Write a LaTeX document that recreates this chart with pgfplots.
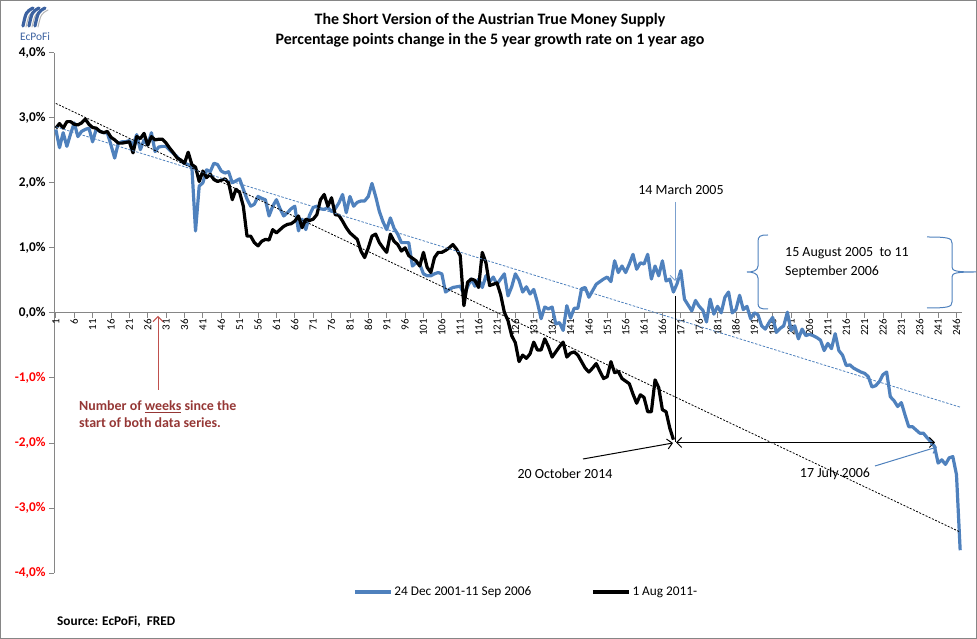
\documentclass[border=0pt]{standalone}
\usepackage{pgfplots}
\usepackage{pgfplotstable}
\pgfplotsset{compat=1.18}
\usepackage{fontspec}
\setmainfont{Carlito}
\usetikzlibrary{arrows.meta}
\definecolor{xlblue}{RGB}{79,129,189}
\definecolor{axgray}{RGB}{134,134,134}
\definecolor{lblred}{RGB}{149,55,53}
\definecolor{arrred}{RGB}{192,80,77}
\definecolor{logoblue}{RGB}{60,98,160}

\pgfplotstableread{
x y
1 2.82
2 2.54
3 2.77
4 2.56
5 2.75
6 2.92
7 2.71
8 2.79
9 2.82
10 2.84
11 2.63
12 2.83
13 2.79
14 2.77
15 2.77
16 2.58
17 2.38
18 2.61
19 2.63
20 2.63
21 2.65
22 2.58
23 2.74
24 2.51
25 2.66
26 2.58
27 2.77
28 2.48
29 2.55
30 2.56
31 2.56
32 2.50
33 2.45
34 2.40
35 2.33
36 2.30
37 2.28
38 2.25
39 1.26
40 1.95
41 2.00
42 2.20
43 2.17
44 2.30
45 2.28
46 2.18
47 2.15
48 2.17
49 2.00
50 2.03
51 2.06
52 1.90
53 1.75
54 1.64
55 1.67
56 1.79
57 1.76
58 1.74
59 1.49
60 1.64
61 1.74
62 1.60
63 1.49
64 1.54
65 1.60
66 1.64
67 1.26
68 1.44
69 1.28
70 1.50
71 1.62
72 1.64
73 1.60
74 1.59
75 1.62
76 1.56
77 1.60
78 1.69
79 1.82
80 1.54
81 1.79
82 1.64
83 1.70
84 1.72
85 1.72
86 1.79
87 1.99
88 1.79
89 1.56
90 1.40
91 1.28
92 1.46
93 1.30
94 1.21
95 1.08
96 1.08
97 1.08
98 0.72
99 0.77
100 0.75
101 0.60
102 0.57
103 0.57
104 0.60
105 0.62
106 0.60
107 0.32
108 0.36
109 0.39
110 0.40
111 0.41
112 0.29
113 0.40
114 0.52
115 0.41
116 0.52
117 0.39
118 0.57
119 0.48
120 0.55
121 0.44
122 0.52
123 0.60
124 0.26
125 0.40
126 0.60
127 0.50
128 0.32
129 0.40
130 0.29
131 0.36
132 0.16
133 -0.09
134 0.09
135 0.06
136 0.09
137 -0.17
138 -0.15
139 -0.27
140 0.11
141 -0.08
142 0.07
143 0.07
144 0.37
145 0.39
146 0.24
147 0.34
148 0.44
149 0.48
150 0.52
151 0.55
152 0.48
153 0.80
154 0.62
155 0.72
156 0.62
157 0.75
158 0.90
159 0.67
160 0.77
161 0.75
162 0.90
163 0.52
164 0.72
165 0.57
166 0.80
167 0.49
168 0.52
169 0.32
170 0.45
171 0.65
172 0.21
173 0.12
174 0.03
175 0.19
176 0.10
177 0.04
178 -0.14
179 0.21
180 -0.02
181 0.10
182 0.00
183 0.24
184 0.32
185 0.00
186 0.05
187 0.27
188 0.05
189 0.10
190 -0.09
191 0.00
192 -0.03
193 -0.20
194 -0.25
195 -0.15
196 -0.07
197 -0.30
198 -0.24
199 -0.20
200 0.01
201 -0.27
202 -0.20
203 -0.40
204 -0.25
205 -0.35
206 -0.33
207 -0.35
208 -0.38
209 -0.42
210 -0.58
211 -0.47
212 -0.55
213 -0.32
214 -0.58
215 -0.65
216 -0.81
217 -0.80
218 -0.85
219 -0.88
220 -0.91
221 -0.93
222 -0.98
223 -1.14
224 -1.12
225 -1.06
226 -0.95
227 -0.91
228 -1.29
229 -1.35
230 -1.44
231 -1.38
232 -1.57
233 -1.75
234 -1.75
235 -1.80
236 -1.85
237 -1.85
238 -1.92
239 -1.98
240 -2.05
241 -2.31
242 -2.26
243 -2.33
244 -2.23
245 -2.21
246 -2.49
247 -3.65
}\bluedata

\pgfplotstableread{
x y
1 2.84
2 2.91
3 2.84
4 2.94
5 2.94
6 2.90
7 2.89
8 2.92
9 2.98
10 2.90
11 2.85
12 2.84
13 2.79
14 2.77
15 2.79
16 2.70
17 2.66
18 2.61
19 2.61
20 2.62
21 2.63
22 2.46
23 2.71
24 2.68
25 2.76
26 2.58
27 2.71
28 2.66
29 2.67
30 2.67
31 2.61
32 2.53
33 2.46
34 2.38
35 2.35
36 2.30
37 2.47
38 2.28
39 2.24
40 2.02
41 2.18
42 2.08
43 2.13
44 2.05
45 2.02
46 2.04
47 2.06
48 2.00
49 1.74
50 1.90
51 1.85
52 1.64
53 1.18
54 1.18
55 1.08
56 1.03
57 1.10
58 1.13
59 1.12
60 1.28
61 1.23
62 1.28
63 1.33
64 1.36
65 1.37
66 1.41
67 1.49
68 1.31
69 1.44
70 1.42
71 1.44
72 1.51
73 1.74
74 1.82
75 1.64
76 1.77
77 1.51
78 1.50
79 1.41
80 1.31
81 1.23
82 1.18
83 1.13
84 0.95
85 0.85
86 1.00
87 1.18
88 1.21
89 1.08
90 1.00
91 0.93
92 1.21
93 1.10
94 1.05
95 0.95
96 1.00
97 0.88
98 0.84
99 0.80
100 0.72
101 0.93
102 0.70
103 0.62
104 0.85
105 0.93
106 0.93
107 0.96
108 1.00
109 1.05
110 0.98
111 0.88
112 0.11
113 0.47
114 0.52
115 0.50
116 0.39
117 0.93
118 0.77
119 0.42
120 0.44
121 0.46
122 0.28
123 0.01
124 -0.12
125 -0.35
126 -0.46
127 -0.75
128 -0.65
129 -0.70
130 -0.63
131 -0.45
132 -0.57
133 -0.57
134 -0.40
135 -0.52
136 -0.68
137 -0.60
138 -0.52
139 -0.45
140 -0.68
141 -0.62
142 -0.60
143 -0.65
144 -0.75
145 -0.85
146 -0.91
147 -0.85
148 -0.78
149 -0.90
150 -1.01
151 -0.98
152 -0.75
153 -0.92
154 -0.90
155 -1.01
156 -1.05
157 -1.09
158 -1.25
159 -1.39
160 -1.26
161 -1.30
162 -1.52
163 -1.52
164 -1.03
165 -1.15
166 -1.49
167 -1.52
168 -1.77
169 -1.95
}\blackdata

\begin{document}
\begin{tikzpicture}
\useasboundingbox (0,0) rectangle (977bp,639bp);
\begin{axis}[
  at={(54bp,66bp)}, anchor=south west,
  scale only axis, width=908bp, height=520.3bp,
  xmin=0.5, xmax=247.5, ymin=-4, ymax=4,
  axis x line=middle, axis y line=left,
  axis line style={axgray, line width=0.8bp, -},
  xtick={1,6,...,246},
  ytick={-4,-3,...,4},
  yticklabels={{\color{red}-4,0\%},{\color{red}-3,0\%},{\color{red}-2,0\%},{\color{red}-1,0\%},{0,0\%},{1,0\%},{2,0\%},{3,0\%},{4,0\%}},
  tick align=outside,
  major tick length=5bp,
  tick style={axgray, line width=0.8bp},
  xticklabel style={rotate=90, anchor=east, font=\fontsize{11}{12}\selectfont, inner sep=1bp},
  yticklabel style={font=\bfseries\fontsize{13.33}{14}\selectfont},
  /pgf/number format/assume math mode=true,
  clip=false,
  legend columns=2,
  legend style={at={(0.52,-0.0365)}, anchor=center, draw=none, fill=none,
    font=\fontsize{13.33}{14}\selectfont,
    /tikz/every even column/.append style={column sep=58bp}},
  legend image code/.code={\draw[#1] (0bp,0bp) -- (36bp,0bp);},
]
\addplot[xlblue, line width=3.2bp, line join=round] table[x=x,y=y] {\bluedata};
\addlegendentry{24 Dec 2001-11 Sep 2006}
\addplot[black, line width=3.2bp, line join=round] table[x=x,y=y] {\blackdata};
\addlegendentry{1 Aug 2011-}
\addplot[xlblue, line width=0.8bp, dash pattern=on 2.5bp off 1.5bp, forget plot] coordinates {(1,2.86) (247,-1.45)};
\addplot[black, line width=0.8bp, dash pattern=on 2bp off 1.5bp, forget plot] coordinates {(1,3.22) (247,-3.37)};
\end{axis}

\begin{scope}[yshift=639bp, x=1bp, y=-1bp]
% frame
\draw[axgray, line width=1bp] (0.5,0.5) rectangle (976.5,638.5);
% logo
\foreach \k in {0,1,2} {
  \draw[logoblue, line width=3.2bp, line cap=round] ({23+\k*6},{26}) .. controls ({26+\k*6},{12}) .. ({33+\k*6},{8});
  \draw[axgray!60, line width=1bp, line cap=round] ({26+\k*6},{27}) .. controls ({29+\k*6},{14}) .. ({36+\k*6},{10});
}
\node[anchor=base west, inner sep=0, text=logoblue, font=\fontsize{11.5}{12}\selectfont] at (20,40.5) {EcPoFi};
% title
\node[anchor=base, inner sep=0, font=\bfseries\fontsize{16}{18}\selectfont] at (490,25) {The Short Version of the Austrian True Money Supply};
\node[anchor=base, inner sep=0, font=\bfseries\fontsize{16}{18}\selectfont] at (490,45) {Percentage points change in the 5 year growth rate on 1 year ago};
% source
\node[anchor=base west, inner sep=0, font=\bfseries\fontsize{13.33}{14}\selectfont] at (57,626) {Source: EcPoFi,\ \ FRED};
% red label and arrow
\draw[arrred, line width=1bp, -{Straight Barb[length=5bp,width=10bp]}] (158,390) -- (158,316);
\node[anchor=base west, inner sep=0, text=lblred, font=\bfseries\fontsize{14}{15}\selectfont] at (79,410.5) {Number of \underline{weeks} since the};
\node[anchor=base west, inner sep=0, text=lblred, font=\bfseries\fontsize{14}{15}\selectfont] at (79,428) {start of both data series.};
% 14 March 2005
\draw[xlblue!75, line width=1bp, -{Straight Barb[length=5bp,width=10bp]}] (675,202) -- (675,281);
\node[anchor=base, inner sep=0, font=\fontsize{14}{15}\selectfont] at (681,195) {14 March 2005};
% black vertical and double arrow
\draw[black, line width=1bp] (675,296) -- (675,442.5);
\draw[black, line width=1bp, {Straight Barb[length=5bp,width=10bp]}-{Straight Barb[length=5bp,width=10bp]}] (676,442.5) -- (935,442.5);
% 20 October 2014
\draw[black, line width=1bp, -{Straight Barb[length=5bp,width=10bp]}] (583,459) -- (673,443);
\node[anchor=base, inner sep=0, font=\fontsize{14}{15}\selectfont] at (565,479) {20 October 2014};
% 17 July 2006
\draw[xlblue, line width=1bp, -{Straight Barb[length=5bp,width=10bp]}] (875,466) -- (937,447);
\node[anchor=base, inner sep=0, font=\fontsize{14}{15}\selectfont] at (835,478) {17 July 2006};
% braces
\draw[xlblue, line width=1bp] (768,235) .. controls (760,235) and (758,236) .. (758,242) -- (758,266) .. controls (758,271) and (752,272) .. (747,272) .. controls (752,272) and (758,273) .. (758,278) -- (758,303) .. controls (758,308) and (760,309) .. (768,309);
\draw[xlblue, line width=1bp] (927,237) .. controls (948,237) and (952,238) .. (952,243) -- (952,267) .. controls (952,271) and (956,272) .. (976,272) .. controls (956,272) and (952,273) .. (952,277) -- (952,302) .. controls (952,307) and (948,308) .. (927,308);
\node[anchor=base west, inner sep=0, font=\fontsize{14}{15}\selectfont] at (785,257) {15 August 2005\ \ to 11};
\node[anchor=base west, inner sep=0, font=\fontsize{14}{15}\selectfont] at (785,276) {September 2006};
\end{scope}
\end{tikzpicture}
\end{document}
